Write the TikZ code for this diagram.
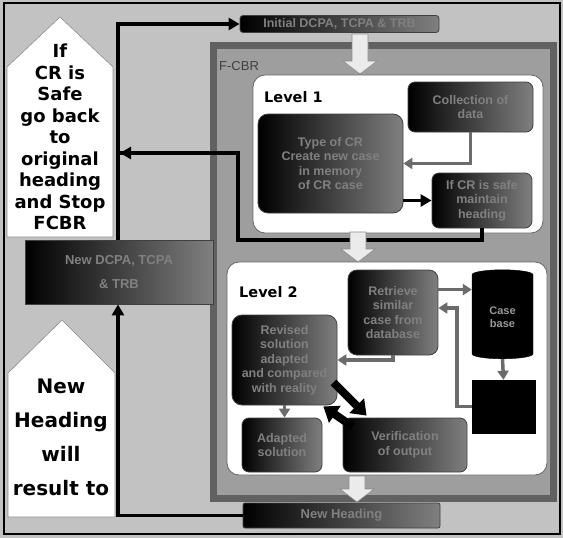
\documentclass[tikz,border=0pt]{standalone}
\usepackage{fontspec}
\setmainfont{Liberation Sans}
\newfontfamily\dvs{DejaVu Sans}
\usetikzlibrary{arrows.meta,shapes.geometric}
\newcommand\blockdn[3]{%
  \path[blk] ({#1-8},#2) -- ({#1+8},#2) -- ({#1+8},{#3-13}) -- ({#1+17},{#3-13}) -- (#1,#3) -- ({#1-17},{#3-13}) -- ({#1-8},{#3-13}) -- cycle;}
\begin{document}
\begin{tikzpicture}[x=1pt,y=-1pt,
  dark/.style={rounded corners=7pt, left color=black, right color=black!50, draw=black!75, line width=0.8pt,
    text=black!50, font=\bfseries\fontsize{12.5}{14.5}\selectfont, align=center, inner sep=1pt},
  blk/.style={fill=black!8, draw=black!45, line width=0.6pt},
  penta/.style={fill=white, draw=black!45, line width=0.6pt},
  lvl/.style={fill=white, draw=black!60, line width=0.8pt, rounded corners=12pt},
  mainc/.style={line width=3.6pt, black, -{Triangle[length=11pt,width=12pt]}},
  inc/.style={line width=3.5pt, black!58, -{Triangle[length=9pt,width=11pt]}},
  thk/.style={line width=8pt, black, -{Triangle[length=14pt,width=20pt]}},
  side/.style={font=\dvs\bfseries\fontsize{18}{21.5}\selectfont, align=center, inner sep=0pt}
]
\useasboundingbox (0,0) rectangle (563,538);
% background and outer frame
\fill[black!24] (0,0) rectangle (563,538);
\draw[line width=1.5pt] (4,3) rectangle (560,534);
% white up-pointing pentagons
\path[penta] (60,17) -- (113,67) -- (113,237) -- (7,237) -- (7,67) -- cycle;
\path[penta] (62,320) -- (115,373) -- (115,517) -- (8,517) -- (8,373) -- cycle;
\node[side] (t1) at (60,137) {If\\CR is\\Safe\\go back\\to\\original\\heading\\and Stop\\FCBR};
\node[side, font=\dvs\bfseries\fontsize{20}{34}\selectfont] (t2) at (61,437) {New\\Heading\\will\\result to};
% F-CBR frame and levels
\node[fill=black!38, draw=black!62, line width=7pt, minimum width=340pt, minimum height=453pt, inner sep=0pt] (fcbr) at (383,271.5) {};
\node[text=black!75, font=\fontsize{13}{15}\selectfont, anchor=west, inner sep=0pt] (fcbrl) at (219,66) {F-CBR};
\node[lvl, minimum width=290pt, minimum height=158pt] (lv1) at (398,154) {};
\node[lvl, minimum width=320pt, minimum height=213pt] (lv2) at (387,368.5) {};
\node[font=\dvs\bfseries\fontsize{14.5}{16}\selectfont, anchor=west, inner sep=0pt] (l1) at (264,97) {Level 1};
\node[font=\dvs\bfseries\fontsize{14.5}{16}\selectfont, anchor=west, inner sep=0pt] (l2) at (239,292) {Level 2};
% boxes
\node[dark, minimum width=199pt, minimum height=17pt, rounded corners=3pt] (top) at (339.5,24) {Initial DCPA, TCPA \& TRB};
\node[dark, minimum width=188pt, minimum height=64pt, rounded corners=0pt, font=\bfseries\fontsize{13}{24}\selectfont] (dcpa) at (119,272) {New DCPA, TCPA\\\& TRB};
\node[dark, minimum width=197pt, minimum height=25pt, rounded corners=2pt, font=\bfseries\fontsize{13}{15}\selectfont] (nh) at (341.5,515.5) {New Heading};
\node[dark, minimum width=145pt, minimum height=99pt, rounded corners=10pt] (big) at (330.5,163.5) {Type of CR\\Create new case\\in memory\\of CR case};
\node[dark, minimum width=125pt, minimum height=50pt] (coll) at (470.5,107) {Collection of\\data};
\node[dark, minimum width=100pt, minimum height=55pt] (safe) at (482,200.5) {If CR is safe\\maintain\\heading};
\node[dark, minimum width=90pt, minimum height=85pt, rounded corners=9pt] (ret) at (393,312.5) {Retrieve\\similar\\case from\\database};
\node[cylinder, shape border rotate=90, aspect=0.35, fill=black, draw=black, minimum height=89pt, minimum width=61pt,
  text=black!40, font=\bfseries\fontsize{11}{13}\selectfont, align=center, inner sep=1pt] (cyl) at (502.5,317.5) {Case\\base};
\node[fill=black, draw=black, minimum width=63pt, minimum height=53pt, inner sep=0pt] (rules) at (503.5,406.5) {};
\node[dark, minimum width=105pt, minimum height=90pt, rounded corners=10pt] (lbox) at (284.5,360) {Revised\\solution\\adapted\\and compared\\with reality};
\node[dark, minimum width=80pt, minimum height=54pt] (adap) at (282,445) {Adapted\\solution};
\node[dark, minimum width=124pt, minimum height=54pt] (ver) at (405,445) {Verification\\of output};
% connectors outside
\coordinate (lx) at (118,0);
\coordinate (r1) at (238,240);
\coordinate (back) at (120,153);
\draw[mainc] (dcpa.north -| lx) |- (top.west);
\draw[line width=3.6pt] (safe.south) |- (r1) |- (back);
\draw[mainc] (r1 |- back) -- (back);
\draw[mainc] (nh.west) -| (dcpa.south -| lx);
% level 1 connectors
\draw[inc] (coll.south) |- (big.east);
\draw[mainc, line width=3pt] (big.east |- safe.west) -- (safe.west);
% level 2 connectors
\coordinate (j) at (457,308);
\draw[inc] ([yshift=-20pt]ret.north east) -- ([yshift=-20pt]ret.north east -| cyl.west);
\draw[inc] (cyl.south) -- (rules.north);
\draw[inc] (rules.west) -| (j) -- (j -| ret.east);
\draw[inc] (ret.south) |- (lbox.east);
\draw[inc] (lbox.south) -- (lbox.south |- adap.north);
\draw[thk] ([shift={(-4,-23)}]lbox.south east) -- ([shift={(24,-2)}]ver.north west);
\draw[thk] ([shift={(10,9)}]ver.north west) -- ([shift={(-14,1)}]lbox.south east);
% light block arrows
\blockdn{360}{34}{74}
\blockdn{358}{232}{262}
\blockdn{357}{476}{502}
\end{tikzpicture}
\end{document}
